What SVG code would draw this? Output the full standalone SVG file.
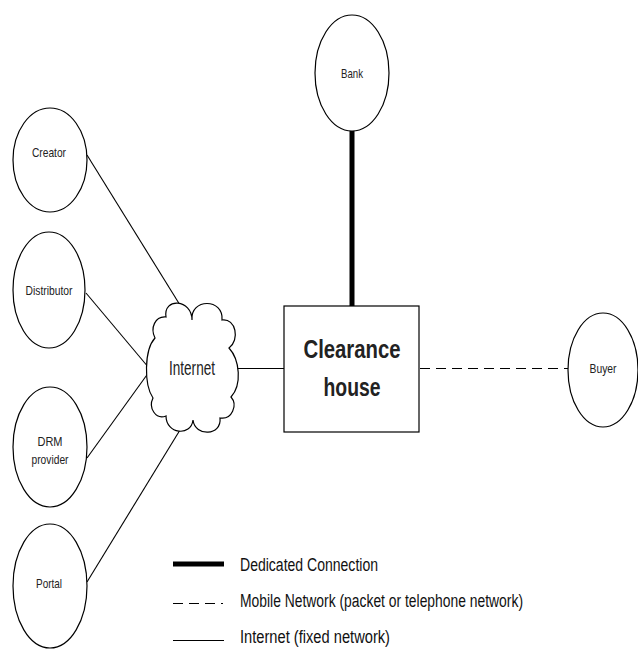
<svg xmlns="http://www.w3.org/2000/svg" width="638" height="650" viewBox="0 0 638 650">
<style>
.node{fill:#fff;stroke:#000;stroke-width:1.2}
.lbl{font-family:"Liberation Sans Narrow","Liberation Sans",Arial,sans-serif;fill:#222;text-anchor:middle}
.sm{font-size:13px}
.thin{stroke:#000;stroke-width:1.1;fill:none}
.thick{stroke:#000;stroke-width:5;fill:none}
.dash{stroke:#000;stroke-width:1;fill:none;stroke-dasharray:10 6}
.leg{font-family:"Liberation Sans Narrow","Liberation Sans",Arial,sans-serif;font-size:18px;fill:#111}
</style>
<rect width="638" height="650" fill="#fff"/>
<g id="connectors">
<line class="thin" x1="87" y1="155" x2="180" y2="305"/>
<line class="thin" x1="86" y1="293" x2="149" y2="368"/>
<line class="thin" x1="87" y1="458" x2="149" y2="372"/>
<line class="thin" x1="87" y1="582" x2="180" y2="430"/>
<line class="thin" x1="236" y1="368.5" x2="284" y2="368.5"/>
<line class="thick" x1="352" y1="131" x2="352" y2="306"/>
<line class="dash" x1="420" y1="368.5" x2="568" y2="368.5"/>
</g>
<g id="creator">
<ellipse class="node" cx="50" cy="160" rx="37" ry="52"/>
<text class="lbl sm" x="49" y="157" textLength="34" lengthAdjust="spacingAndGlyphs">Creator</text>
</g>
<g id="distributor">
<ellipse class="node" cx="49" cy="290" rx="36" ry="58"/>
<text class="lbl sm" x="49" y="295" textLength="47" lengthAdjust="spacingAndGlyphs">Distributor</text>
</g>
<g id="drm">
<ellipse class="node" cx="50" cy="447" rx="37" ry="60"/>
<text class="lbl sm" x="50" y="446" textLength="25" lengthAdjust="spacingAndGlyphs">DRM</text>
<text class="lbl sm" x="50" y="464" textLength="37" lengthAdjust="spacingAndGlyphs">provider</text>
</g>
<g id="portal">
<ellipse class="node" cx="50" cy="586" rx="37" ry="62"/>
<text class="lbl sm" x="49" y="588" textLength="26" lengthAdjust="spacingAndGlyphs">Portal</text>
</g>
<g id="bank">
<ellipse class="node" cx="352" cy="73" rx="37" ry="58"/>
<text class="lbl sm" x="352" y="78" textLength="22" lengthAdjust="spacingAndGlyphs">Bank</text>
</g>
<g id="buyer">
<ellipse class="node" cx="603" cy="370" rx="35" ry="57"/>
<text class="lbl sm" x="603" y="373" textLength="27" lengthAdjust="spacingAndGlyphs">Buyer</text>
</g>
<g id="internet">
<path class="node" d="M155,338 C150,328 155,316 166,317 C163,297 192,299 192,320 C190,298 224,298 222,320 C236,318 240,340 229,348 C240,360 242,385 231,397 C238,405 232,420 220,418 C222,436 195,437 193,420 C191,437 166,434 166,416 C156,420 148,408 153,398 C144,385 144,350 155,338 Z"/>
<text class="lbl" x="192" y="375" font-size="20" textLength="46" lengthAdjust="spacingAndGlyphs">Internet</text>
</g>
<g id="clearance">
<rect class="node" x="284" y="306" width="135" height="126"/>
<text class="lbl" x="352" y="358" font-size="26" font-weight="bold" fill="#000" textLength="97" lengthAdjust="spacingAndGlyphs">Clearance</text>
<text class="lbl" x="352" y="396" font-size="26" font-weight="bold" fill="#000" textLength="57" lengthAdjust="spacingAndGlyphs">house</text>
</g>
<g id="legend">
<line class="thick" x1="173" y1="564" x2="224" y2="564"/>
<line class="dash" x1="173" y1="603.5" x2="223" y2="603.5"/>
<line class="thin" x1="173" y1="640.5" x2="224" y2="640.5"/>
<text class="leg" x="240" y="571" textLength="138" lengthAdjust="spacingAndGlyphs">Dedicated Connection</text>
<text class="leg" x="240" y="607" textLength="283" lengthAdjust="spacingAndGlyphs">Mobile Network (packet or telephone network)</text>
<text class="leg" x="240" y="643" textLength="150" lengthAdjust="spacingAndGlyphs">Internet (fixed network)</text>
</g>
</svg>
